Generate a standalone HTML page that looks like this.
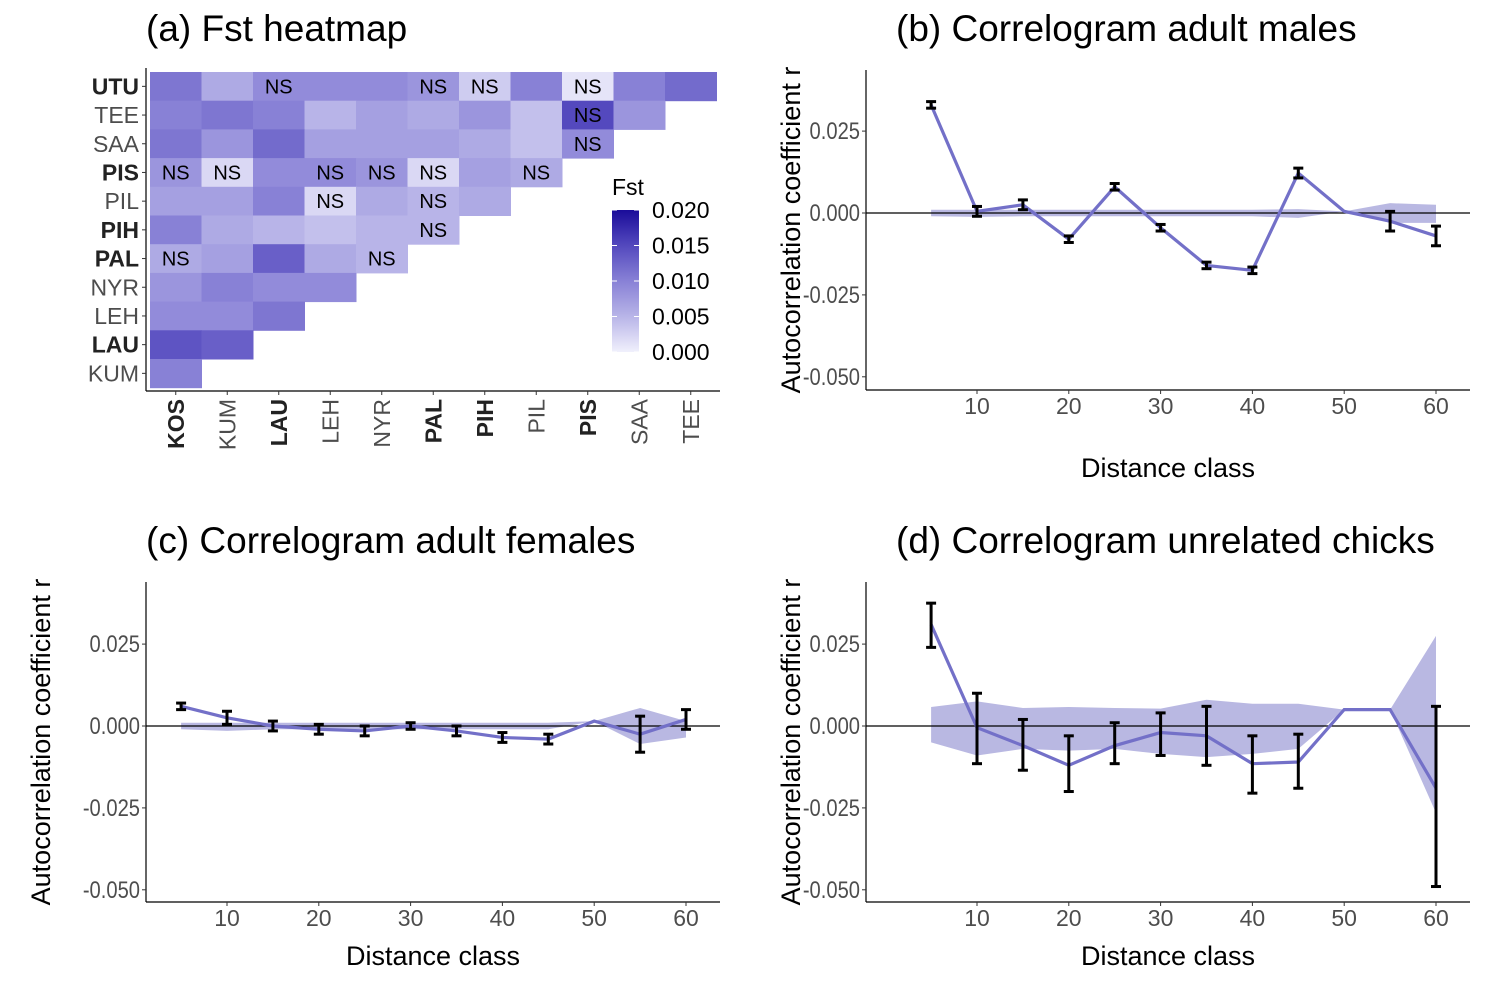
<!DOCTYPE html>
<html><head><meta charset="utf-8"><style>
body{margin:0;background:#fff;}
svg{display:block;font-family:"Liberation Sans",sans-serif;}
</style></head><body>
<svg id="fig" width="1500" height="1000" viewBox="0 0 1500 1000"></svg>
<script>
// ---------- Heatmap data ----------
const popCols = ['KOS','KUM','LAU','LEH','NYR','PAL','PIH','PIL','PIS','SAA','TEE'];
const popRows = ['UTU','TEE','SAA','PIS','PIL','PIH','PAL','NYR','LEH','LAU','KUM'];
const boldPops = ['KOS','LAU','PAL','PIH','PIS','UTU'];
const fstValues = [
 [.011,.006,.009,.009,.009,.008,.003,.010,.001,.010,.012],
 [.010,.011,.010,.005,.007,.006,.008,.004,.015,.008],
 [.011,.008,.012,.007,.007,.007,.006,.004,.009],
 [.008,.002,.009,.009,.008,.002,.007,.006],
 [.007,.007,.010,.002,.006,.005,.006],
 [.010,.006,.005,.004,.005,.005],
 [.006,.007,.013,.006,.005],
 [.008,.010,.009,.009],
 [.009,.009,.011],
 [.014,.013],
 [.010]
];
const nsFlags = [
 [0,0,1,0,0,1,1,0,1,0,0],
 [0,0,0,0,0,0,0,0,1,0],
 [0,0,0,0,0,0,0,0,1],
 [1,1,0,1,1,1,0,1],
 [0,0,0,1,0,1,0],
 [0,0,0,0,0,1],
 [1,0,0,0,1],
 [0,0,0,0],
 [0,0,0],
 [0,0],
 [0]
];
const fstTicks = [0.000,0.005,0.010,0.015,0.020];

// ---------- Correlogram data ----------
const distClass = [5,10,15,20,25,30,35,40,45,50,55,60];
const xTicks = [10,20,30,40,50,60];
const yTicks = [0.025,0,-0.025,-0.05];
const yTickLabels = ['0.025','0.000','-0.025','-0.050'];

const maleR   = [.033,.0005,.0025,-.008,.008,-.0045,-.016,-.0175,.0122,.0005,-.0025,-.007];
const maleLo  = [.032,-.001,.001,-.009,.007,-.0055,-.017,-.0185,.0107,null,-.0055,-.010];
const maleHi  = [.034,.002,.004,-.007,.009,-.0035,-.015,-.0165,.0137,null,.0005,-.004];
const maleEnvLo = [-.001,-.0012,-.001,-.001,-.001,-.001,-.001,-.001,-.0015,.0005,-.003,-.003];
const maleEnvHi = [.001,.001,.001,.001,.001,.001,.001,.001,.0012,.0005,.003,.0025];

const femR   = [.006,.0025,0,-.001,-.0015,0,-.0015,-.0035,-.004,.0015,-.0025,.002];
const femLo  = [.005,.0005,-.0015,-.0025,-.003,-.001,-.003,-.005,-.0055,null,-.008,-.001];
const femHi  = [.007,.0045,.0015,.0005,0,.001,0,-.002,-.0025,null,.003,.005];
const femEnvLo = [-.001,-.0015,-.001,-.001,-.001,-.001,-.001,-.001,-.001,.0015,-.0055,-.0035];
const femEnvHi = [.001,.001,.001,.001,.001,.001,.001,.001,.001,.0015,.0055,.0015];

const chickR   = [.031,-.0005,-.006,-.012,-.006,-.002,-.003,-.0115,-.011,.005,.005,-.019];
const chickLo  = [.024,-.0115,-.0135,-.020,-.0115,-.009,-.012,-.0205,-.019,null,null,-.049];
const chickHi  = [.0375,.010,.002,-.003,.001,.004,.006,-.003,-.0025,null,null,.006];
const chickEnvLo = [-.005,-.009,-.007,-.0075,-.007,-.0085,-.0095,-.0085,-.007,.005,.005,-.0265];
const chickEnvHi = [.0058,.0075,.0055,.0058,.0055,.0053,.008,.0068,.0068,.005,.005,.0275];

const NS='http://www.w3.org/2000/svg';
const svg=document.getElementById('fig');
function mk(tag,attrs,parent,text){const e=document.createElementNS(NS,tag);for(const k in attrs)e.setAttribute(k,attrs[k]);if(text!==undefined)e.textContent=text;(parent||svg).appendChild(e);return e;}

const stops=[[0,[240,240,252]],[0.25,[184,180,232]],[0.5,[136,129,214]],[0.75,[84,73,190]],[1,[26,12,153]]];
function fstColor(v){let t=Math.max(0,Math.min(1,v/0.02));for(let i=1;i<stops.length;i++){if(t<=stops[i][0]){const a=stops[i-1],b=stops[i];const f=(t-a[0])/(b[0]-a[0]);const c=a[1].map((x,j)=>Math.round(x+(b[1][j]-x)*f));return `rgb(${c[0]},${c[1]},${c[2]})`;}}return 'rgb(26,12,153)';}

// ---------- Panel a ----------
const ga=mk('g',{});


const t1=mk('text',{x:146,y:41,'font-size':37,fill:'#000'},ga,'(a) Fst heatmap');

const hx0=150,hy0=72,cw=51.5,ch=28.7;
fstValues.forEach((row,r)=>{row.forEach((v,c)=>{
  const rc=mk('rect',{x:hx0+c*cw,y:hy0+r*ch,width:cw+0.5,height:ch+0.5,fill:fstColor(v)},ga);
  
  if(nsFlags[r][c]){const t=mk('text',{x:hx0+(c+0.5)*cw,y:hy0+(r+0.5)*ch+7,'font-size':20,'text-anchor':'middle',fill:'#000'},ga,'NS');
    }
});});
mk('line',{x1:146,y1:68,x2:146,y2:391,stroke:'#000','stroke-width':1.2},ga);
mk('line',{x1:146,y1:391,x2:720,y2:391,stroke:'#000','stroke-width':1.2},ga);
popRows.forEach((p,r)=>{const y=hy0+(r+0.5)*ch;
  mk('line',{x1:142,y1:y,x2:146,y2:y,stroke:'#333'},ga);
  const b=boldPops.includes(p);
  const t=mk('text',{x:139,y:y+8,'font-size':23,'text-anchor':'end',fill:b?'#222':'#4d4d4d','font-weight':b?'bold':'normal'},ga,p);
  });
popCols.forEach((p,c)=>{const x=hx0+(c+0.5)*cw;
  mk('line',{x1:x,y1:391,x2:x,y2:395,stroke:'#333'},ga);
  const b=boldPops.includes(p);
  const t=mk('text',{x:0,y:0,'font-size':23,'text-anchor':'end',fill:b?'#222':'#4d4d4d','font-weight':b?'bold':'normal',transform:`translate(${x+8},399) rotate(-90)`},ga,p);
  });
const defs=mk('defs',{});
const lg=mk('linearGradient',{id:'fstgrad',x1:0,y1:1,x2:0,y2:0},defs);
for(let i=0;i<=10;i++){mk('stop',{offset:i/10,'stop-color':fstColor(0.002*i)},lg);}
const lt=mk('text',{x:612,y:195,'font-size':23,fill:'#000'},ga,'Fst');

const lb=mk('rect',{x:612,y:210,width:27,height:142,fill:'url(#fstgrad)'},ga);

fstTicks.forEach(v=>{const y=352-(v/0.02)*142;
  mk('line',{x1:612,y1:y,x2:617,y2:y,stroke:'#fff'},ga);mk('line',{x1:634,y1:y,x2:639,y2:y,stroke:'#fff'},ga);
  const t=mk('text',{x:652,y:y+8,'font-size':23,fill:'#000'},ga,v.toFixed(3));
  });

// ---------- Correlograms ----------
function correlogram(opt){
  const g=mk('g',{});
  
  const L=opt.left,T=opt.top,R=opt.right,B=opt.top+320,zeroY=opt.zeroY;
  const X=d=>opt.x10+(d-10)*9.18;
  const Y=v=>zeroY-v*3276;
  const tt=mk('text',{x:opt.titleX,y:T-29,'font-size':37,fill:'#000'},g,opt.title);
  
  let pts=distClass.map((d,i)=>X(d)+','+Y(opt.envHi[i]));
  pts=pts.concat(distClass.map((d,i)=>X(d)+','+Y(opt.envLo[i])).reverse());
  const env=mk('polygon',{points:pts.join(' '),fill:'#b9b8e2'},g);
  
  mk('line',{x1:L,y1:Y(0),x2:R,y2:Y(0),stroke:'#000','stroke-width':1.3},g);
  const ln=mk('polyline',{points:distClass.map((d,i)=>X(d)+','+Y(opt.r[i])).join(' '),fill:'none',stroke:'#7370c8','stroke-width':3.2},g);
  
  distClass.forEach((d,i)=>{if(opt.lo[i]===null)return;const x=X(d),y1=Y(opt.hi[i]),y2=Y(opt.lo[i]);
    const eg=mk('g',{stroke:'#000','stroke-width':3},g);
    
    mk('line',{x1:x,y1:y1,x2:x,y2:y2},eg);mk('line',{x1:x-5,y1:y1,x2:x+5,y2:y1},eg);mk('line',{x1:x-5,y1:y2,x2:x+5,y2:y2},eg);});
  mk('line',{x1:L,y1:T,x2:L,y2:B,stroke:'#000','stroke-width':1.2},g);
  mk('line',{x1:L,y1:B,x2:R,y2:B,stroke:'#000','stroke-width':1.2},g);
  yTicks.forEach((v,i)=>{const y=Y(v);mk('line',{x1:L-4,y1:y,x2:L,y2:y,stroke:'#333'},g);
    const t=mk('text',{x:0,y:0,'font-size':24,'text-anchor':'end',fill:'#4d4d4d',transform:`translate(${L-6},${y+8}) scale(0.84,1)`},g,yTickLabels[i]);
    });
  xTicks.forEach(d=>{const x=X(d);mk('line',{x1:x,y1:B,x2:x,y2:B+4,stroke:'#333'},g);
    const t=mk('text',{x:x,y:B+24,'font-size':23,'text-anchor':'middle',fill:'#4d4d4d'},g,String(d));
    });
  const xt=mk('text',{x:(L+R)/2,y:B+opt.xtOff,'font-size':27,'text-anchor':'middle',fill:'#000'},g,'Distance class');
  
  const yt=mk('text',{x:0,y:0,'font-size':27,'text-anchor':'middle',fill:'#000',transform:`translate(${opt.ytX},${(T+B)/2}) rotate(-90)`},g,'Autocorrelation coefficient r');
  
}
correlogram({name:'correlogram-males-panel',title:'(b) Correlogram adult males',titleX:896,left:866,right:1470,top:70,zeroY:213,x10:977,r:maleR,lo:maleLo,hi:maleHi,envLo:maleEnvLo,envHi:maleEnvHi,xtOff:87,ytX:800});
correlogram({name:'correlogram-females-panel',title:'(c) Correlogram adult females',titleX:146,left:146,right:720,top:582,zeroY:726,x10:227,r:femR,lo:femLo,hi:femHi,envLo:femEnvLo,envHi:femEnvHi,xtOff:63,ytX:50});
correlogram({name:'correlogram-chicks-panel',title:'(d) Correlogram unrelated chicks',titleX:896,left:866,right:1470,top:582,zeroY:726,x10:977,r:chickR,lo:chickLo,hi:chickHi,envLo:chickEnvLo,envHi:chickEnvHi,xtOff:63,ytX:800});
</script>
</body></html>
